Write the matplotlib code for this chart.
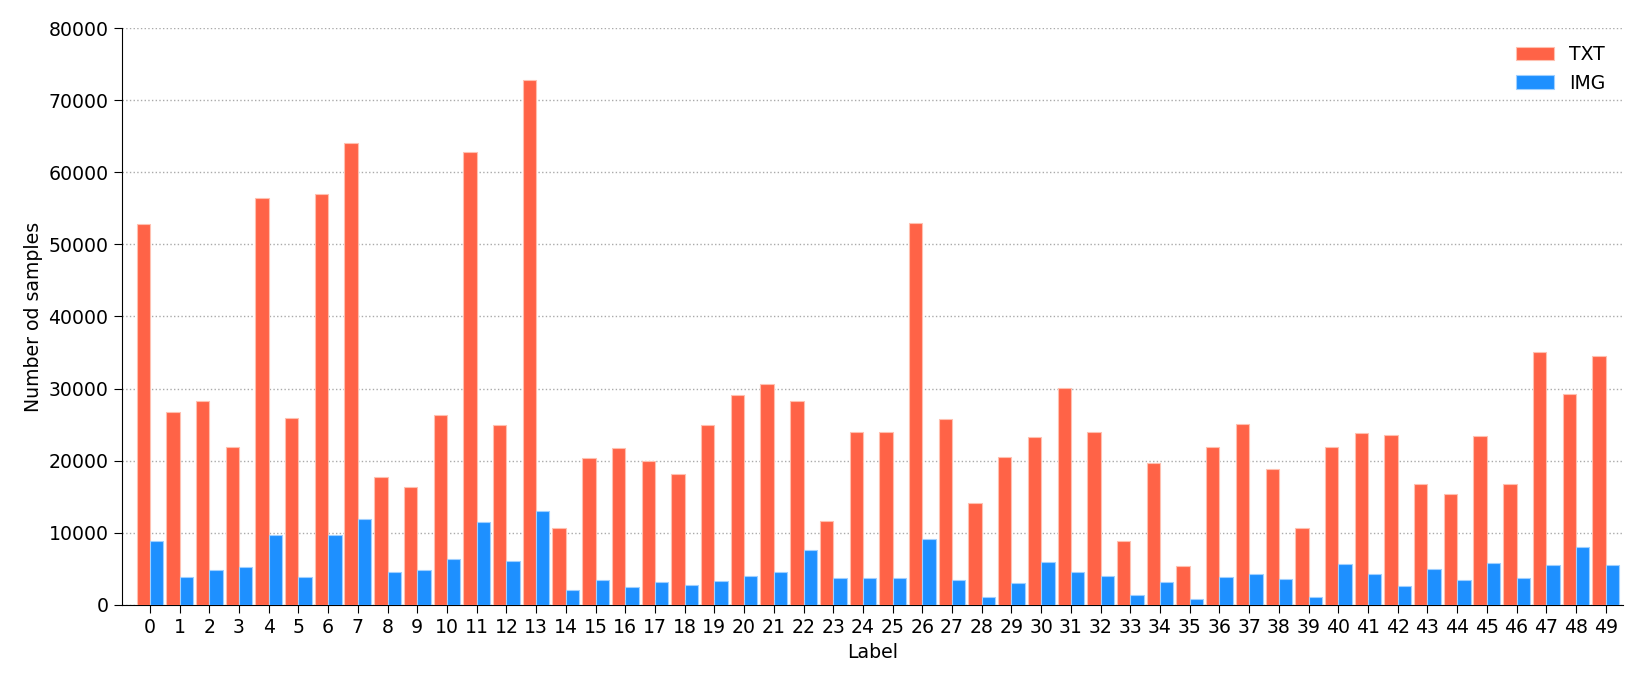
import matplotlib
matplotlib.use("Agg")
import matplotlib.pyplot as plt
import numpy as np

labels = list(range(50))
txt = [52800, 26770, 28220, 21860, 56500, 25980, 56990, 64130, 17680, 16350,
       26340, 62860, 24950, 72850, 10660, 20410, 21800, 19980, 18110, 24950,
       29070, 30700, 28280, 11630, 24040, 23980, 52930, 25800, 14110, 20530,
       23320, 30100, 23920, 8840, 19740, 5390, 21860, 25130, 18830, 10720,
       21860, 23800, 23500, 16710, 15440, 23440, 16710, 35120, 29310, 34580]
img = [8900, 3880, 4840, 5270, 9750, 3815, 9630, 11930, 4540, 4840,
       6360, 11510, 6120, 12960, 2060, 3450, 2540, 3210, 2790, 3270,
       4060, 4600, 7630, 3690, 3750, 3690, 9140, 3510, 1090, 3030,
       5930, 4600, 3940, 1330, 3150, 790, 3815, 4240, 3630, 1150,
       5690, 4300, 2600, 5030, 3450, 5750, 3750, 5510, 8050, 5570]
yticks = [0, 10000, 20000, 30000, 40000, 50000, 60000, 70000, 80000]

fs = 13.6
fig = plt.figure(figsize=(16.44, 6.85), dpi=100)
ax = fig.add_axes([0.074, 0.117, 0.913, 0.842])

x = np.arange(len(labels))
w = 0.45
ax.bar(x - w / 2, txt, width=w, color="tomato", edgecolor="#ffc0b0", linewidth=0.8, label="TXT", zorder=3)
ax.bar(x + w / 2, img, width=w, color="dodgerblue", edgecolor="#a0d0ff", linewidth=0.8, label="IMG", zorder=3)

ax.set_xticks(x)
ax.set_xticklabels([str(l) for l in labels], fontsize=fs)
ax.set_yticks(yticks)
ax.set_yticklabels([str(t) for t in yticks], fontsize=fs)
ax.set_ylim(0, 80000)
ax.set_xlim(-0.95, 49.57)
ax.set_xlabel("Label", fontsize=fs, labelpad=4)
ax.set_ylabel("Number od samples", fontsize=fs)
ax.yaxis.grid(True, linestyle=":", color="#aaaaaa", linewidth=1, zorder=0)
ax.set_axisbelow(True)
for s in ["top", "right"]:
    ax.spines[s].set_visible(False)
ax.tick_params(axis="both", length=6)
ax.legend(loc="upper right", frameon=False, fontsize=fs)

fig.savefig("out.png", dpi=100)
